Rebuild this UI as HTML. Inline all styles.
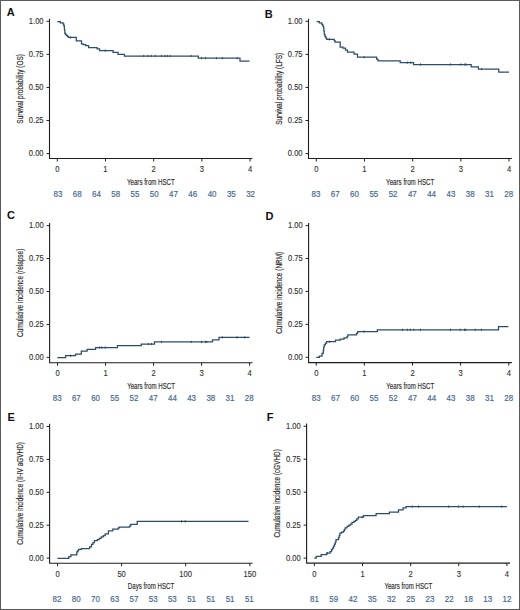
<!DOCTYPE html>
<html><head><meta charset="utf-8"><title>Survival curves</title><style>
html,body{margin:0;padding:0;background:#fff;}
body{width:520px;height:610px;overflow:hidden;}
svg{display:block;}
text{font-family:"Liberation Sans", sans-serif;}
.t{font-size:8.3px;fill:#303030;stroke:#303030;stroke-width:0.12px;}
.n{font-size:8.6px;fill:#45698e;stroke:#45698e;stroke-width:0.18px;}
.l{font-size:9.5px;fill:#2e2e2e;stroke:#2e2e2e;stroke-width:0.18px;}
.L{font-size:11.0px;font-weight:bold;fill:#111;}
</style></head>
<body>
<svg width="520" height="610" viewBox="0 0 520 610">
<rect x="0" y="0" width="520" height="610" fill="#fff"/>
<path d="M49.5 18.7V158.5H252.3" fill="none" stroke="#1e1e1e" stroke-width="1.1"/>
<path d="M46.5 21.3H49.5M46.5 54.38H49.5M46.5 87.45H49.5M46.5 120.52H49.5M46.5 153.6H49.5M57.3 158.5V161.5M105.47 158.5V161.5M153.65 158.5V161.5M201.82 158.5V161.5M250 158.5V161.5" fill="none" stroke="#1e1e1e" stroke-width="1"/>
<text x="43.6" y="24.05" text-anchor="end" class="t" textLength="14.79" lengthAdjust="spacingAndGlyphs">1.00</text>
<text x="43.6" y="57.12" text-anchor="end" class="t" textLength="14.79" lengthAdjust="spacingAndGlyphs">0.75</text>
<text x="43.6" y="90.2" text-anchor="end" class="t" textLength="14.79" lengthAdjust="spacingAndGlyphs">0.50</text>
<text x="43.6" y="123.27" text-anchor="end" class="t" textLength="14.79" lengthAdjust="spacingAndGlyphs">0.25</text>
<text x="43.6" y="156.35" text-anchor="end" class="t" textLength="14.79" lengthAdjust="spacingAndGlyphs">0.00</text>
<text x="57.3" y="171.9" text-anchor="middle" class="t" textLength="4.23" lengthAdjust="spacingAndGlyphs">0</text>
<text x="105.47" y="171.9" text-anchor="middle" class="t" textLength="4.23" lengthAdjust="spacingAndGlyphs">1</text>
<text x="153.65" y="171.9" text-anchor="middle" class="t" textLength="4.23" lengthAdjust="spacingAndGlyphs">2</text>
<text x="201.82" y="171.9" text-anchor="middle" class="t" textLength="4.23" lengthAdjust="spacingAndGlyphs">3</text>
<text x="250" y="171.9" text-anchor="middle" class="t" textLength="4.23" lengthAdjust="spacingAndGlyphs">4</text>
<text x="57.9" y="196.7" text-anchor="middle" class="n" textLength="8.84" lengthAdjust="spacingAndGlyphs">83</text>
<text x="77.17" y="196.7" text-anchor="middle" class="n" textLength="8.84" lengthAdjust="spacingAndGlyphs">68</text>
<text x="96.44" y="196.7" text-anchor="middle" class="n" textLength="8.84" lengthAdjust="spacingAndGlyphs">64</text>
<text x="115.71" y="196.7" text-anchor="middle" class="n" textLength="8.84" lengthAdjust="spacingAndGlyphs">58</text>
<text x="134.98" y="196.7" text-anchor="middle" class="n" textLength="8.84" lengthAdjust="spacingAndGlyphs">55</text>
<text x="154.25" y="196.7" text-anchor="middle" class="n" textLength="8.84" lengthAdjust="spacingAndGlyphs">50</text>
<text x="173.52" y="196.7" text-anchor="middle" class="n" textLength="8.84" lengthAdjust="spacingAndGlyphs">47</text>
<text x="192.79" y="196.7" text-anchor="middle" class="n" textLength="8.84" lengthAdjust="spacingAndGlyphs">46</text>
<text x="212.06" y="196.7" text-anchor="middle" class="n" textLength="8.84" lengthAdjust="spacingAndGlyphs">40</text>
<text x="231.33" y="196.7" text-anchor="middle" class="n" textLength="8.84" lengthAdjust="spacingAndGlyphs">35</text>
<text x="250.6" y="196.7" text-anchor="middle" class="n" textLength="8.84" lengthAdjust="spacingAndGlyphs">32</text>
<text x="150.9" y="184.7" text-anchor="middle" class="l" textLength="47.8" lengthAdjust="spacingAndGlyphs">Years from HSCT</text>
<text transform="translate(22.6 88.9) rotate(-90)" x="0" y="0" text-anchor="middle" class="l" textLength="69.5" lengthAdjust="spacingAndGlyphs">Survival probability (OS)</text>
<text x="6.7" y="15.8" class="L">A</text>
<path d="M57.3 21.5H60.3V22.9H63.2V24.2H63.9V26H64.4V29.5H64.8V33H65.4V34.4H66.3V35.4H67.3V36.4H68.4V37.4H76.3V40.8H81.5V43.8H83.2V44.6H85.6V45.7H88.6V47.5H97.1V48.9H99.6V50.6H113.1V52.3H118V54.3H124.4V56H198.3V58.2H240V61H249.5" fill="none" stroke="#2c4c6b" stroke-width="1.25" stroke-linejoin="miter"/>
<path d="M70.4 36.3V38.5M105.4 49.5V51.7M143.75 54.9V57.1M148.1 54.9V57.1M151.4 54.9V57.1M155.3 54.9V57.1M161.5 54.9V57.1M164.9 54.9V57.1M167.3 54.9V57.1M170.2 54.9V57.1M191.2 54.9V57.1M201.5 57.1V59.3M205.6 57.1V59.3M216.4 57.1V59.3M222.4 57.1V59.3M237.2 57.1V59.3" fill="none" stroke="#2c4c6b" stroke-width="1"/>
<path d="M308.5 18.7V158.5H511.9" fill="none" stroke="#1e1e1e" stroke-width="1.1"/>
<path d="M305.5 21.3H308.5M305.5 54.38H308.5M305.5 87.45H308.5M305.5 120.52H308.5M305.5 153.6H308.5M316.3 158.5V161.5M364.48 158.5V161.5M412.65 158.5V161.5M460.82 158.5V161.5M509 158.5V161.5" fill="none" stroke="#1e1e1e" stroke-width="1"/>
<text x="302.6" y="24.05" text-anchor="end" class="t" textLength="14.79" lengthAdjust="spacingAndGlyphs">1.00</text>
<text x="302.6" y="57.12" text-anchor="end" class="t" textLength="14.79" lengthAdjust="spacingAndGlyphs">0.75</text>
<text x="302.6" y="90.2" text-anchor="end" class="t" textLength="14.79" lengthAdjust="spacingAndGlyphs">0.50</text>
<text x="302.6" y="123.27" text-anchor="end" class="t" textLength="14.79" lengthAdjust="spacingAndGlyphs">0.25</text>
<text x="302.6" y="156.35" text-anchor="end" class="t" textLength="14.79" lengthAdjust="spacingAndGlyphs">0.00</text>
<text x="316.3" y="171.9" text-anchor="middle" class="t" textLength="4.23" lengthAdjust="spacingAndGlyphs">0</text>
<text x="364.48" y="171.9" text-anchor="middle" class="t" textLength="4.23" lengthAdjust="spacingAndGlyphs">1</text>
<text x="412.65" y="171.9" text-anchor="middle" class="t" textLength="4.23" lengthAdjust="spacingAndGlyphs">2</text>
<text x="460.82" y="171.9" text-anchor="middle" class="t" textLength="4.23" lengthAdjust="spacingAndGlyphs">3</text>
<text x="509" y="171.9" text-anchor="middle" class="t" textLength="4.23" lengthAdjust="spacingAndGlyphs">4</text>
<text x="316" y="196.7" text-anchor="middle" class="n" textLength="8.84" lengthAdjust="spacingAndGlyphs">83</text>
<text x="335.27" y="196.7" text-anchor="middle" class="n" textLength="8.84" lengthAdjust="spacingAndGlyphs">67</text>
<text x="354.54" y="196.7" text-anchor="middle" class="n" textLength="8.84" lengthAdjust="spacingAndGlyphs">60</text>
<text x="373.81" y="196.7" text-anchor="middle" class="n" textLength="8.84" lengthAdjust="spacingAndGlyphs">55</text>
<text x="393.08" y="196.7" text-anchor="middle" class="n" textLength="8.84" lengthAdjust="spacingAndGlyphs">52</text>
<text x="412.35" y="196.7" text-anchor="middle" class="n" textLength="8.84" lengthAdjust="spacingAndGlyphs">47</text>
<text x="431.62" y="196.7" text-anchor="middle" class="n" textLength="8.84" lengthAdjust="spacingAndGlyphs">44</text>
<text x="450.89" y="196.7" text-anchor="middle" class="n" textLength="8.84" lengthAdjust="spacingAndGlyphs">43</text>
<text x="470.16" y="196.7" text-anchor="middle" class="n" textLength="8.84" lengthAdjust="spacingAndGlyphs">38</text>
<text x="489.43" y="196.7" text-anchor="middle" class="n" textLength="8.84" lengthAdjust="spacingAndGlyphs">31</text>
<text x="508.7" y="196.7" text-anchor="middle" class="n" textLength="8.84" lengthAdjust="spacingAndGlyphs">28</text>
<text x="410.2" y="184.7" text-anchor="middle" class="l" textLength="48.2" lengthAdjust="spacingAndGlyphs">Years from HSCT</text>
<text transform="translate(282 88.8) rotate(-90)" x="0" y="0" text-anchor="middle" class="l" textLength="72" lengthAdjust="spacingAndGlyphs">Survival probability (LFS)</text>
<text x="264.7" y="17.7" class="L">B</text>
<path d="M316.6 21.5H319.4V22.8H321.8V24.3H322.8V26H323.6V28H323.9V31H324.3V34.5H325V36.5H325.9V38H326.7V39.3H334.2V40.7H335V42H340.2V47H343V48.2H345.5V50.1H347.5V52.2H354.1V54H357.5V57.2H376.6V59H378V60.8H400.2V62.6H413.6V64.5H471.2V66.8H478.4V69.1H498.8V72.1H509" fill="none" stroke="#2c4c6b" stroke-width="1.25" stroke-linejoin="miter"/>
<path d="M329.4 38.2V40.4M364.2 56.1V58.3M407.3 61.5V63.7M410.8 61.5V63.7M420.6 63.4V65.6M450.4 63.4V65.6M460.9 63.4V65.6M464.9 63.4V65.6M465.9 63.4V65.6M481.6 68V70.2" fill="none" stroke="#2c4c6b" stroke-width="1"/>
<path d="M49.6 222.9V362.75H252.5" fill="none" stroke="#1e1e1e" stroke-width="1.1"/>
<path d="M46.6 225.6H49.6M46.6 258.55H49.6M46.6 291.5H49.6M46.6 324.45H49.6M46.6 357.4H49.6M57.5 362.75V365.75M105.53 362.75V365.75M153.55 362.75V365.75M201.57 362.75V365.75M249.6 362.75V365.75" fill="none" stroke="#1e1e1e" stroke-width="1"/>
<text x="43.7" y="228.35" text-anchor="end" class="t" textLength="14.79" lengthAdjust="spacingAndGlyphs">1.00</text>
<text x="43.7" y="261.3" text-anchor="end" class="t" textLength="14.79" lengthAdjust="spacingAndGlyphs">0.75</text>
<text x="43.7" y="294.25" text-anchor="end" class="t" textLength="14.79" lengthAdjust="spacingAndGlyphs">0.50</text>
<text x="43.7" y="327.2" text-anchor="end" class="t" textLength="14.79" lengthAdjust="spacingAndGlyphs">0.25</text>
<text x="43.7" y="360.15" text-anchor="end" class="t" textLength="14.79" lengthAdjust="spacingAndGlyphs">0.00</text>
<text x="57.5" y="376.15" text-anchor="middle" class="t" textLength="4.23" lengthAdjust="spacingAndGlyphs">0</text>
<text x="105.53" y="376.15" text-anchor="middle" class="t" textLength="4.23" lengthAdjust="spacingAndGlyphs">1</text>
<text x="153.55" y="376.15" text-anchor="middle" class="t" textLength="4.23" lengthAdjust="spacingAndGlyphs">2</text>
<text x="201.57" y="376.15" text-anchor="middle" class="t" textLength="4.23" lengthAdjust="spacingAndGlyphs">3</text>
<text x="249.6" y="376.15" text-anchor="middle" class="t" textLength="4.23" lengthAdjust="spacingAndGlyphs">4</text>
<text x="57.15" y="400.6" text-anchor="middle" class="n" textLength="8.84" lengthAdjust="spacingAndGlyphs">83</text>
<text x="76.36" y="400.6" text-anchor="middle" class="n" textLength="8.84" lengthAdjust="spacingAndGlyphs">67</text>
<text x="95.57" y="400.6" text-anchor="middle" class="n" textLength="8.84" lengthAdjust="spacingAndGlyphs">60</text>
<text x="114.78" y="400.6" text-anchor="middle" class="n" textLength="8.84" lengthAdjust="spacingAndGlyphs">55</text>
<text x="133.99" y="400.6" text-anchor="middle" class="n" textLength="8.84" lengthAdjust="spacingAndGlyphs">52</text>
<text x="153.2" y="400.6" text-anchor="middle" class="n" textLength="8.84" lengthAdjust="spacingAndGlyphs">47</text>
<text x="172.41" y="400.6" text-anchor="middle" class="n" textLength="8.84" lengthAdjust="spacingAndGlyphs">44</text>
<text x="191.62" y="400.6" text-anchor="middle" class="n" textLength="8.84" lengthAdjust="spacingAndGlyphs">43</text>
<text x="210.83" y="400.6" text-anchor="middle" class="n" textLength="8.84" lengthAdjust="spacingAndGlyphs">38</text>
<text x="230.04" y="400.6" text-anchor="middle" class="n" textLength="8.84" lengthAdjust="spacingAndGlyphs">31</text>
<text x="249.25" y="400.6" text-anchor="middle" class="n" textLength="8.84" lengthAdjust="spacingAndGlyphs">28</text>
<text x="151.05" y="388.95" text-anchor="middle" class="l" textLength="47.8" lengthAdjust="spacingAndGlyphs">Years from HSCT</text>
<text transform="translate(22.5 292.85) rotate(-90)" x="0" y="0" text-anchor="middle" class="l" textLength="88.3" lengthAdjust="spacingAndGlyphs">Cumulative incidence (relapse)</text>
<text x="7" y="219.4" class="L">C</text>
<path d="M57.3 357.5H65.6V355.7H75.5V354.2H81.3V351.2H87.1V349.4H95.6V347.5H117.4V345.5H141.3V344.1H154.5V341.9H212.5V339.8H219V337.4H249.6" fill="none" stroke="#2c4c6b" stroke-width="1.25" stroke-linejoin="miter"/>
<path d="M70.6 354.6V356.8M99.4 346.4V348.6M101.7 346.4V348.6M105.2 346.4V348.6M148.3 343V345.2M151.4 343V345.2M161.5 340.8V343M191.2 340.8V343M201.5 340.8V343M205.6 340.8V343M206.8 340.8V343M222.3 336.3V338.5M237 336.3V338.5M244.8 336.3V338.5" fill="none" stroke="#2c4c6b" stroke-width="1"/>
<path d="M308.6 222.9V362.6H511.9" fill="none" stroke="#1e1e1e" stroke-width="1.1"/>
<path d="M305.6 225.6H308.6M305.6 258.52H308.6M305.6 291.45H308.6M305.6 324.38H308.6M305.6 357.3H308.6M316.25 362.6V365.6M364.38 362.6V365.6M412.5 362.6V365.6M460.62 362.6V365.6M508.75 362.6V365.6" fill="none" stroke="#1e1e1e" stroke-width="1"/>
<text x="302.7" y="228.35" text-anchor="end" class="t" textLength="14.79" lengthAdjust="spacingAndGlyphs">1.00</text>
<text x="302.7" y="261.27" text-anchor="end" class="t" textLength="14.79" lengthAdjust="spacingAndGlyphs">0.75</text>
<text x="302.7" y="294.2" text-anchor="end" class="t" textLength="14.79" lengthAdjust="spacingAndGlyphs">0.50</text>
<text x="302.7" y="327.12" text-anchor="end" class="t" textLength="14.79" lengthAdjust="spacingAndGlyphs">0.25</text>
<text x="302.7" y="360.05" text-anchor="end" class="t" textLength="14.79" lengthAdjust="spacingAndGlyphs">0.00</text>
<text x="316.25" y="376" text-anchor="middle" class="t" textLength="4.23" lengthAdjust="spacingAndGlyphs">0</text>
<text x="364.38" y="376" text-anchor="middle" class="t" textLength="4.23" lengthAdjust="spacingAndGlyphs">1</text>
<text x="412.5" y="376" text-anchor="middle" class="t" textLength="4.23" lengthAdjust="spacingAndGlyphs">2</text>
<text x="460.62" y="376" text-anchor="middle" class="t" textLength="4.23" lengthAdjust="spacingAndGlyphs">3</text>
<text x="508.75" y="376" text-anchor="middle" class="t" textLength="4.23" lengthAdjust="spacingAndGlyphs">4</text>
<text x="316.25" y="400.7" text-anchor="middle" class="n" textLength="8.84" lengthAdjust="spacingAndGlyphs">83</text>
<text x="335.5" y="400.7" text-anchor="middle" class="n" textLength="8.84" lengthAdjust="spacingAndGlyphs">67</text>
<text x="354.75" y="400.7" text-anchor="middle" class="n" textLength="8.84" lengthAdjust="spacingAndGlyphs">60</text>
<text x="374" y="400.7" text-anchor="middle" class="n" textLength="8.84" lengthAdjust="spacingAndGlyphs">55</text>
<text x="393.25" y="400.7" text-anchor="middle" class="n" textLength="8.84" lengthAdjust="spacingAndGlyphs">52</text>
<text x="412.5" y="400.7" text-anchor="middle" class="n" textLength="8.84" lengthAdjust="spacingAndGlyphs">47</text>
<text x="431.75" y="400.7" text-anchor="middle" class="n" textLength="8.84" lengthAdjust="spacingAndGlyphs">44</text>
<text x="451" y="400.7" text-anchor="middle" class="n" textLength="8.84" lengthAdjust="spacingAndGlyphs">43</text>
<text x="470.25" y="400.7" text-anchor="middle" class="n" textLength="8.84" lengthAdjust="spacingAndGlyphs">38</text>
<text x="489.5" y="400.7" text-anchor="middle" class="n" textLength="8.84" lengthAdjust="spacingAndGlyphs">31</text>
<text x="508.75" y="400.7" text-anchor="middle" class="n" textLength="8.84" lengthAdjust="spacingAndGlyphs">28</text>
<text x="410.25" y="388.8" text-anchor="middle" class="l" textLength="48" lengthAdjust="spacingAndGlyphs">Years from HSCT</text>
<text transform="translate(281.9 292.8) rotate(-90)" x="0" y="0" text-anchor="middle" class="l" textLength="82" lengthAdjust="spacingAndGlyphs">Cumulative incidence (NRM)</text>
<text x="265.5" y="219.6" class="L">D</text>
<path d="M316.3 357.4H319.4V356.1H322V353.4H323.3V350H323.7V347H324.2V344.9H325.4V343H326.6V341.7H335.5V340.2H340.2V339H344V337.8H347.1V336.5H347.8V334.9H356.5V333.3H357.7V331.6H377.3V329.8H498.5V326.7H508.4" fill="none" stroke="#2c4c6b" stroke-width="1.25" stroke-linejoin="miter"/>
<path d="M329.4 340.6V342.8M364 330.5V332.7M402.4 328.7V330.9M407.3 328.7V330.9M410.4 328.7V330.9M413.9 328.7V330.9M420.4 328.7V330.9M450.4 328.7V330.9M460.2 328.7V330.9M464.6 328.7V330.9M465.7 328.7V330.9M475.2 328.7V330.9M481.4 328.7V330.9" fill="none" stroke="#2c4c6b" stroke-width="1"/>
<path d="M49.6 423.75V563.2H252.5" fill="none" stroke="#1e1e1e" stroke-width="1.1"/>
<path d="M46.6 426.5H49.6M46.6 459.4H49.6M46.6 492.3H49.6M46.6 525.2H49.6M46.6 558.1H49.6M57.5 563.2V566.2M121.6 563.2V566.2M185.7 563.2V566.2M249.8 563.2V566.2" fill="none" stroke="#1e1e1e" stroke-width="1"/>
<text x="43.7" y="429.25" text-anchor="end" class="t" textLength="14.79" lengthAdjust="spacingAndGlyphs">1.00</text>
<text x="43.7" y="462.15" text-anchor="end" class="t" textLength="14.79" lengthAdjust="spacingAndGlyphs">0.75</text>
<text x="43.7" y="495.05" text-anchor="end" class="t" textLength="14.79" lengthAdjust="spacingAndGlyphs">0.50</text>
<text x="43.7" y="527.95" text-anchor="end" class="t" textLength="14.79" lengthAdjust="spacingAndGlyphs">0.25</text>
<text x="43.7" y="560.85" text-anchor="end" class="t" textLength="14.79" lengthAdjust="spacingAndGlyphs">0.00</text>
<text x="57.5" y="576.6" text-anchor="middle" class="t" textLength="4.23" lengthAdjust="spacingAndGlyphs">0</text>
<text x="121.6" y="576.6" text-anchor="middle" class="t" textLength="8.45" lengthAdjust="spacingAndGlyphs">50</text>
<text x="185.7" y="576.6" text-anchor="middle" class="t" textLength="12.68" lengthAdjust="spacingAndGlyphs">100</text>
<text x="249.8" y="576.6" text-anchor="middle" class="t" textLength="12.68" lengthAdjust="spacingAndGlyphs">150</text>
<text x="57" y="601.5" text-anchor="middle" class="n" textLength="8.84" lengthAdjust="spacingAndGlyphs">82</text>
<text x="76.23" y="601.5" text-anchor="middle" class="n" textLength="8.84" lengthAdjust="spacingAndGlyphs">80</text>
<text x="95.46" y="601.5" text-anchor="middle" class="n" textLength="8.84" lengthAdjust="spacingAndGlyphs">70</text>
<text x="114.69" y="601.5" text-anchor="middle" class="n" textLength="8.84" lengthAdjust="spacingAndGlyphs">63</text>
<text x="133.92" y="601.5" text-anchor="middle" class="n" textLength="8.84" lengthAdjust="spacingAndGlyphs">57</text>
<text x="153.15" y="601.5" text-anchor="middle" class="n" textLength="8.84" lengthAdjust="spacingAndGlyphs">53</text>
<text x="172.38" y="601.5" text-anchor="middle" class="n" textLength="8.84" lengthAdjust="spacingAndGlyphs">53</text>
<text x="191.61" y="601.5" text-anchor="middle" class="n" textLength="8.84" lengthAdjust="spacingAndGlyphs">51</text>
<text x="210.84" y="601.5" text-anchor="middle" class="n" textLength="8.84" lengthAdjust="spacingAndGlyphs">51</text>
<text x="230.07" y="601.5" text-anchor="middle" class="n" textLength="8.84" lengthAdjust="spacingAndGlyphs">51</text>
<text x="249.3" y="601.5" text-anchor="middle" class="n" textLength="8.84" lengthAdjust="spacingAndGlyphs">51</text>
<text x="151.05" y="589.4" text-anchor="middle" class="l" textLength="46.4" lengthAdjust="spacingAndGlyphs">Days from HSCT</text>
<text transform="translate(22.5 493.4) rotate(-90)" x="0" y="0" text-anchor="middle" class="l" textLength="102.6" lengthAdjust="spacingAndGlyphs">Cumulative incidence (II-IV aGVHD)</text>
<text x="7.6" y="420.6" class="L">E</text>
<path d="M57.4 558.3H68.8V556.5H70.9V554.8H76.8V551.8H77.8V550.5H78.6V549.3H81.4V548.5H89.6V546.9H91.5V544.4H93V542.6H94.4V540.6H97.3V539.7H99.2V538.3H101.2V536.8H103.3V535.6H105.2V533.8H108.4V530.8H112.8V529.1H118.2V527.8H119.5V527.2H129.6V525.8H130.8V524.3H137.2V521.4H248.5" fill="none" stroke="#2c4c6b" stroke-width="1.25" stroke-linejoin="miter"/>
<path d="M181.6 520.3V522.5M185.2 520.3V522.5" fill="none" stroke="#2c4c6b" stroke-width="1"/>
<path d="M306.6 423.6V563.1H510" fill="none" stroke="#1e1e1e" stroke-width="1.1"/>
<path d="M303.6 426.25H306.6M303.6 459.21H306.6M303.6 492.18H306.6M303.6 525.14H306.6M303.6 558.1H306.6M314.4 563.1V566.1M362.52 563.1V566.1M410.65 563.1V566.1M458.77 563.1V566.1M506.9 563.1V566.1" fill="none" stroke="#1e1e1e" stroke-width="1"/>
<text x="300.7" y="429" text-anchor="end" class="t" textLength="14.79" lengthAdjust="spacingAndGlyphs">1.00</text>
<text x="300.7" y="461.96" text-anchor="end" class="t" textLength="14.79" lengthAdjust="spacingAndGlyphs">0.75</text>
<text x="300.7" y="494.93" text-anchor="end" class="t" textLength="14.79" lengthAdjust="spacingAndGlyphs">0.50</text>
<text x="300.7" y="527.89" text-anchor="end" class="t" textLength="14.79" lengthAdjust="spacingAndGlyphs">0.25</text>
<text x="300.7" y="560.85" text-anchor="end" class="t" textLength="14.79" lengthAdjust="spacingAndGlyphs">0.00</text>
<text x="314.4" y="576.5" text-anchor="middle" class="t" textLength="4.23" lengthAdjust="spacingAndGlyphs">0</text>
<text x="362.52" y="576.5" text-anchor="middle" class="t" textLength="4.23" lengthAdjust="spacingAndGlyphs">1</text>
<text x="410.65" y="576.5" text-anchor="middle" class="t" textLength="4.23" lengthAdjust="spacingAndGlyphs">2</text>
<text x="458.77" y="576.5" text-anchor="middle" class="t" textLength="4.23" lengthAdjust="spacingAndGlyphs">3</text>
<text x="506.9" y="576.5" text-anchor="middle" class="t" textLength="4.23" lengthAdjust="spacingAndGlyphs">4</text>
<text x="314.4" y="601.55" text-anchor="middle" class="n" textLength="8.84" lengthAdjust="spacingAndGlyphs">81</text>
<text x="333.65" y="601.55" text-anchor="middle" class="n" textLength="8.84" lengthAdjust="spacingAndGlyphs">59</text>
<text x="352.9" y="601.55" text-anchor="middle" class="n" textLength="8.84" lengthAdjust="spacingAndGlyphs">42</text>
<text x="372.15" y="601.55" text-anchor="middle" class="n" textLength="8.84" lengthAdjust="spacingAndGlyphs">35</text>
<text x="391.4" y="601.55" text-anchor="middle" class="n" textLength="8.84" lengthAdjust="spacingAndGlyphs">32</text>
<text x="410.65" y="601.55" text-anchor="middle" class="n" textLength="8.84" lengthAdjust="spacingAndGlyphs">25</text>
<text x="429.9" y="601.55" text-anchor="middle" class="n" textLength="8.84" lengthAdjust="spacingAndGlyphs">23</text>
<text x="449.15" y="601.55" text-anchor="middle" class="n" textLength="8.84" lengthAdjust="spacingAndGlyphs">22</text>
<text x="468.4" y="601.55" text-anchor="middle" class="n" textLength="8.84" lengthAdjust="spacingAndGlyphs">18</text>
<text x="487.65" y="601.55" text-anchor="middle" class="n" textLength="8.84" lengthAdjust="spacingAndGlyphs">13</text>
<text x="506.9" y="601.55" text-anchor="middle" class="n" textLength="8.84" lengthAdjust="spacingAndGlyphs">12</text>
<text x="408.3" y="589.3" text-anchor="middle" class="l" textLength="47.8" lengthAdjust="spacingAndGlyphs">Years from HSCT</text>
<text transform="translate(280 493.4) rotate(-90)" x="0" y="0" text-anchor="middle" class="l" textLength="88.4" lengthAdjust="spacingAndGlyphs">Cumulative incidence (cGVHD)</text>
<text x="266.8" y="420.6" class="L">F</text>
<path d="M314.3 558.2H316.2V556.4H321.2V554.6H326.6V553.2H330.1V551.5H331.5V549.5H332.5V548H333.5V546H334.5V544H335.3V542H336V539.5H338.5V537.7H339.2V535.5H339.9V533.2H341.5V532H343.5V531H344.3V529.5H345.1V527.9H347V526.4H348.9V525H350.5V524H352V522.4H354V521.3H355.4V520.3H356.8V518.8H358.3V517.2H363.5V515.6H376.1V513.7H389.4V512.2H398.5V509.8H403.1V507.9H406V506.6H507" fill="none" stroke="#2c4c6b" stroke-width="1.25" stroke-linejoin="miter"/>
<path d="M327.4 552.1V554.3M362.3 516.1V518.3M412.3 505.5V507.7M418.6 505.5V507.7M448.6 505.5V507.7M458.5 505.5V507.7M463.1 505.5V507.7M479.3 505.5V507.7M501.7 505.5V507.7" fill="none" stroke="#2c4c6b" stroke-width="1"/>
<rect x="0.5" y="0.5" width="519" height="609" fill="none" stroke="#5a5a5a" stroke-width="1"/>
</svg>
</body></html>
